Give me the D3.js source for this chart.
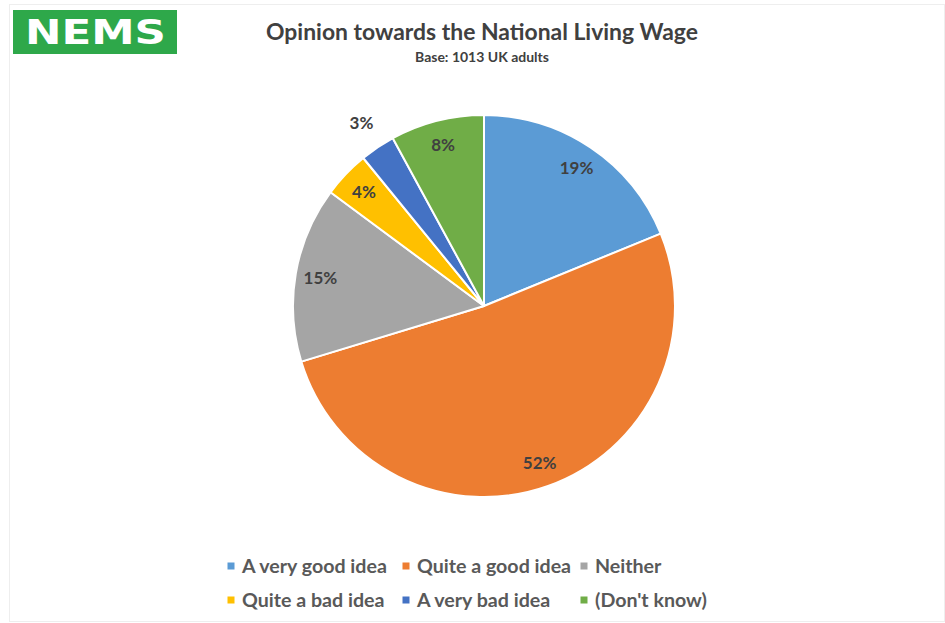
<!DOCTYPE html>
<html>
<head>
<meta charset="utf-8">
<script src="https://cdn.jsdelivr.net/npm/d3@7/dist/d3.min.js"></script>
<style>
  html, body { margin: 0; padding: 0; background: #fff; }
  svg { display: block; }
  text { font-family: Lato, "Open Sans", "Liberation Sans", sans-serif; }
</style>
</head>
<body>
<svg id="chart" width="945" height="623"></svg>
<script>
// Survey responses (percent of respondents)
const categories = ["A very good idea", "Quite a good idea", "Neither", "Quite a bad idea", "A very bad idea", "(Don't know)"];
const values = [19, 52, 15, 4, 3, 8];
const colors = ["#5b9bd5", "#ed7d31", "#a5a5a5", "#ffc000", "#4472c4", "#70ad47"];

const title = "Opinion towards the National Living Wage";
const subtitle = "Base: 1013 UK adults";

const W = 945, H = 623;
const svg = d3.select("#chart");

// light frame round the chart area
svg.append("rect")
  .attr("x", 9.5).attr("y", 4.5).attr("width", W - 10).attr("height", H - 6)
  .attr("fill", "none").attr("stroke", "#eeeeee").attr("stroke-width", 1);

// NEMS logo
const logo = svg.append("g");
logo.append("rect").attr("x", 13).attr("y", 10).attr("width", 164).attr("height", 44).attr("fill", "#2ea84a");
logo.append("text")
  .attr("x", 25).attr("y", 44)
  .attr("textLength", 141).attr("lengthAdjust", "spacingAndGlyphs")
  .style("font-family", "'DejaVu Sans', Verdana, sans-serif")
  .style("font-weight", "bold").style("font-size", "33px")
  .attr("fill", "#ffffff").text("NEMS");

// scale a text element's font size so it spans the target width; returns the size
function fitWidth(sel, target) {
  const w = sel.node().getComputedTextLength();
  const fs = parseFloat(sel.style("font-size"));
  const size = fs * target / w;
  sel.style("font-size", size + "px");
  return size;
}

const t = svg.append("text")
  .attr("x", 482).attr("y", 40).attr("text-anchor", "middle")
  .style("font-weight", "bold").style("font-size", "18px")
  .attr("fill", "#404040").text(title);
fitWidth(t, 432);

const st = svg.append("text")
  .attr("x", 482).attr("y", 62).attr("text-anchor", "middle")
  .style("font-weight", "bold").style("font-size", "11px")
  .attr("fill", "#404040").text(subtitle);
fitWidth(st, 134);

// Pie
const cx = 484, cy = 306, R = 191;
const data = categories.map((c, i) => ({ cat: c, value: values[i], color: colors[i] }));
const pie = d3.pie().value(d => d.value).sort(null).startAngle(0).endAngle(2 * Math.PI);
const arcs = pie(data);
const arc = d3.arc().innerRadius(0).outerRadius(R);
const labelArc = d3.arc().innerRadius(166).outerRadius(166);
const outerLabelArc = d3.arc().innerRadius(220).outerRadius(220);

const g = svg.append("g").attr("transform", `translate(${cx},${cy})`);
g.selectAll("path.slice").data(arcs).enter().append("path")
  .attr("class", "slice")
  .attr("d", arc)
  .attr("fill", d => d.data.color)
  .attr("stroke", "#ffffff").attr("stroke-width", 2).attr("stroke-linejoin", "round");

// small slices get their label outside the pie
g.selectAll("text.lbl").data(arcs).enter().append("text")
  .attr("class", "lbl")
  .attr("transform", d => `translate(${(d.data.value <= 3 ? outerLabelArc : labelArc).centroid(d)})`)
  .attr("text-anchor", "middle").attr("dy", "0.36em")
  .style("font-weight", "bold").style("font-size", "17px")
  .attr("fill", "#404040")
  .text(d => d.data.value + "%");

// Legend: two rows of three
const colX = [231, 406, 584];
const rowY = [566, 600];
const leg = svg.append("g");
const legText = [];
data.forEach((d, i) => {
  const x = colX[i % 3], y = rowY[Math.floor(i / 3)];
  leg.append("rect").attr("x", x - 3.5).attr("y", y - 3.5).attr("width", 7).attr("height", 7).attr("fill", d.color);
  legText.push(leg.append("text").attr("x", x + 11).attr("y", y).attr("dy", "0.36em")
    .style("font-weight", "bold").style("font-size", "16px")
    .attr("fill", "#595959").text(d.cat));
});
const legSize = fitWidth(legText[0], 145);
legText.forEach(s => s.style("font-size", legSize + "px"));
</script>
</body>
</html>
